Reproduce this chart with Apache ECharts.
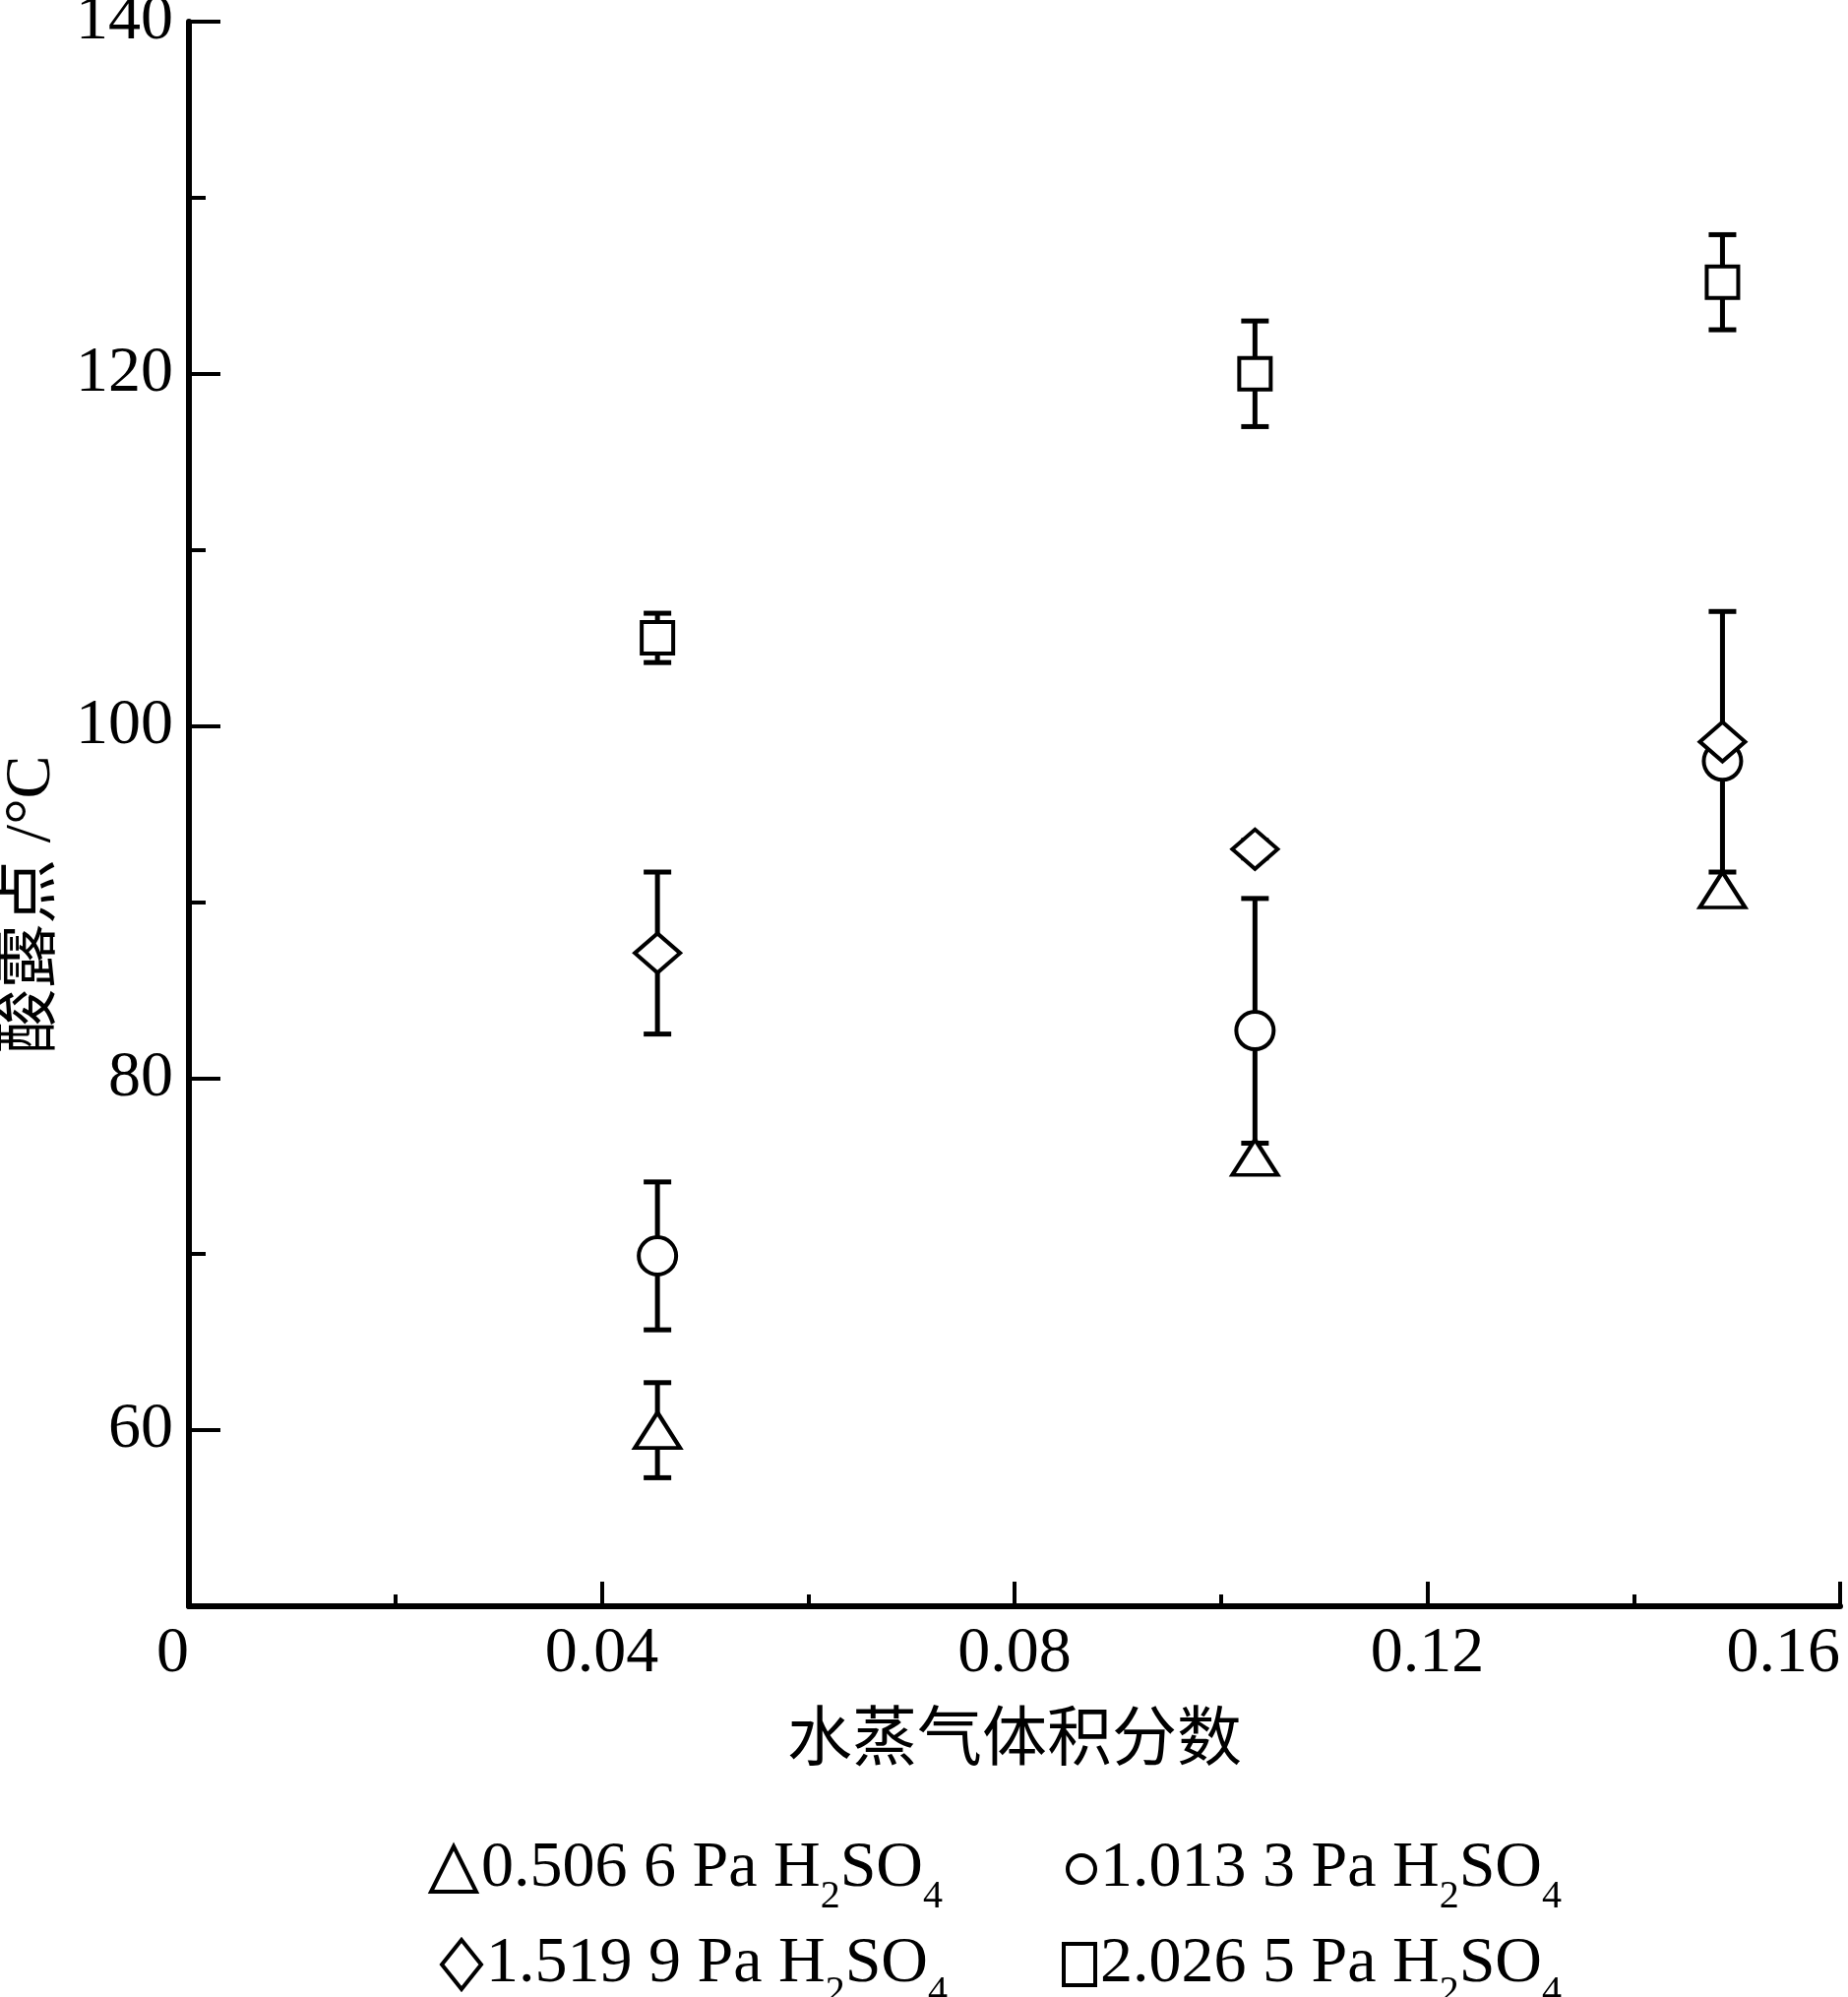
<!DOCTYPE html>
<html>
<head>
<meta charset="utf-8">
<title>酸露点</title>
<script src="https://cdn.jsdelivr.net/npm/echarts@6/dist/echarts.min.js"></script>
<style>
html, body { margin: 0; padding: 0; background: #fff; }
#acid-dew { width: 1878px; height: 2029px; }
</style>
</head>
<body>
<div id="acid-dew"></div>
<script>
// 水蒸气体积分数 of the three measuring columns
var waterFrac = [0.0454, 0.1033, 0.1486]

// 酸露点 (°C) and half error bar per H2SO4 partial pressure
var seriesNames = ['0.506 6 Pa H2SO4', '1.013 3 Pa H2SO4', '1.519 9 Pa H2SO4', '2.026 5 Pa H2SO4']
var dew05066 = [60.0, 75.5, 90.7]
var err05066 = [2.7, 0.8, 0]
var dew10133 = [69.9, 82.7, 98.0]
var err10133 = [4.2, 7.5, 0]
var dew15199 = [87.1, 93.0, 99.1]
var err15199 = [4.6, 0.5, 7.4]
var dew20265 = [105.0, 120.0, 125.2]
var err20265 = [1.4, 3.0, 2.7]

// axis ticks
var yMajorTicks = [60, 80, 100, 120, 140]
var yMinorTicks = [70, 90, 110, 130]

var FONT = "'Liberation Serif', 'Noto Sans CJK SC', serif"

function points (vals) {
  return vals.map(function (v, i) { return [waterFrac[i], v] })
}

function bars (vals, errs) {
  var out = []
  for (var i = 0; i < vals.length; i++) {
    if (errs[i] > 0) {
      out.push([waterFrac[i], vals[i] - errs[i], vals[i] + errs[i]])
    }
  }
  return out
}

function errorBarItem (params, api) {
  var x = api.value(0)
  var lo = api.coord([x, api.value(1)])
  var hi = api.coord([x, api.value(2)])
  var half = 14
  var style = { stroke: '#000', lineWidth: 5 }
  return {
    type: 'group',
    children: [
      { type: 'line', shape: { x1: lo[0], y1: lo[1], x2: hi[0], y2: hi[1] }, style: style },
      { type: 'line', shape: { x1: lo[0] - half, y1: lo[1], x2: lo[0] + half, y2: lo[1] }, style: style },
      { type: 'line', shape: { x1: hi[0] - half, y1: hi[1], x2: hi[0] + half, y2: hi[1] }, style: style }
    ]
  }
}

function errSeries (vals, errs) {
  return {
    type: 'custom',
    renderItem: errorBarItem,
    encode: { x: 0, y: [1, 2] },
    z: 1,
    silent: true,
    data: bars(vals, errs)
  }
}

function dotSeries (name, symbol, size, vals) {
  return {
    name: name,
    type: 'scatter',
    symbol: symbol,
    symbolSize: size,
    z: 3,
    itemStyle: { color: '#fff', borderColor: '#000', borderWidth: 4, opacity: 1 },
    data: points(vals)
  }
}

// H2SO4 with subscripts
function legendText (name) {
  return '{n|' + name.replace(' H2SO4', '') + ' H}{s|2}{n|SO}{s|4}'
}

function legendOne (name, left, top, w, h) {
  return {
    data: [name],
    left: left,
    top: top,
    padding: 0,
    itemWidth: w,
    itemHeight: h,
    selectedMode: false,
    itemStyle: { borderWidth: 4, borderColor: '#000', color: '#fff' },
    formatter: legendText,
    textStyle: {
      rich: {
        n: { fontFamily: FONT, fontSize: 66, lineHeight: 96, color: '#000' },
        s: { fontFamily: FONT, fontSize: 40, lineHeight: 40, verticalAlign: 'bottom', color: '#000' }
      }
    }
  }
}

var myChart = echarts.init(document.getElementById('acid-dew'))

var option = {
  animation: false,
  backgroundColor: '#fff',
  grid: { left: 192, right: 8, top: 22, bottom: 397, outerBoundsMode: 'none' },
  legend: [
    legendOne(seriesNames[0], 436, 1866, 46, 46),
    legendOne(seriesNames[1], 1083, 1866, 28, 38),
    legendOne(seriesNames[2], 447, 1963, 40, 50),
    legendOne(seriesNames[3], 1079, 1963, 32, 42)
  ],
  xAxis: {
    type: 'value',
    min: 0,
    max: 0.16,
    interval: 0.04,
    name: '水蒸气体积分数',
    nameLocation: 'middle',
    nameGap: 106,
    nameTextStyle: { fontFamily: FONT, fontSize: 66, color: '#000' },
    axisLine: { lineStyle: { color: '#000', width: 6 } },
    axisTick: { inside: true, length: 25, lineStyle: { color: '#000', width: 4 } },
    minorTick: { show: true, splitNumber: 2, length: 12, lineStyle: { color: '#000', width: 4 } },
    axisLabel: {
      margin: 16,
      fontFamily: FONT,
      fontSize: 66,
      color: '#000',
      alignMinLabel: 'right',
      alignMaxLabel: 'right'
    },
    splitLine: { show: false }
  },
  yAxis: [
    {
      type: 'value',
      min: 50,
      max: 140,
      name: '酸露点 /°C',
      nameLocation: 'middle',
      nameGap: 126,
      nameTextStyle: { fontFamily: FONT, fontSize: 66, color: '#000', padding: [0, 184, 0, 0] },
      axisLine: { lineStyle: { color: '#000', width: 6 } },
      axisTick: { inside: true, length: 32, customValues: yMajorTicks, lineStyle: { color: '#000', width: 4 } },
      axisLabel: { margin: 16, fontFamily: FONT, fontSize: 66, color: '#000', customValues: yMajorTicks },
      splitLine: { show: false }
    },
    {
      // only carries the short ticks between the labelled ones
      type: 'value',
      min: 50,
      max: 140,
      position: 'left',
      axisLine: { show: false },
      axisTick: { inside: true, length: 17, customValues: yMinorTicks, lineStyle: { color: '#000', width: 4 } },
      axisLabel: { show: false },
      splitLine: { show: false }
    }
  ],
  series: [
    errSeries(dew05066, err05066),
    errSeries(dew10133, err10133),
    errSeries(dew15199, err15199),
    errSeries(dew20265, err20265),
    dotSeries(seriesNames[0], 'triangle', [46, 36], dew05066),
    dotSeries(seriesNames[1], 'circle', 38, dew10133),
    dotSeries(seriesNames[2], 'diamond', [46, 40], dew15199),
    dotSeries(seriesNames[3], 'rect', [32, 32], dew20265)
  ]
}

myChart.setOption(option)
</script>
</body>
</html>
